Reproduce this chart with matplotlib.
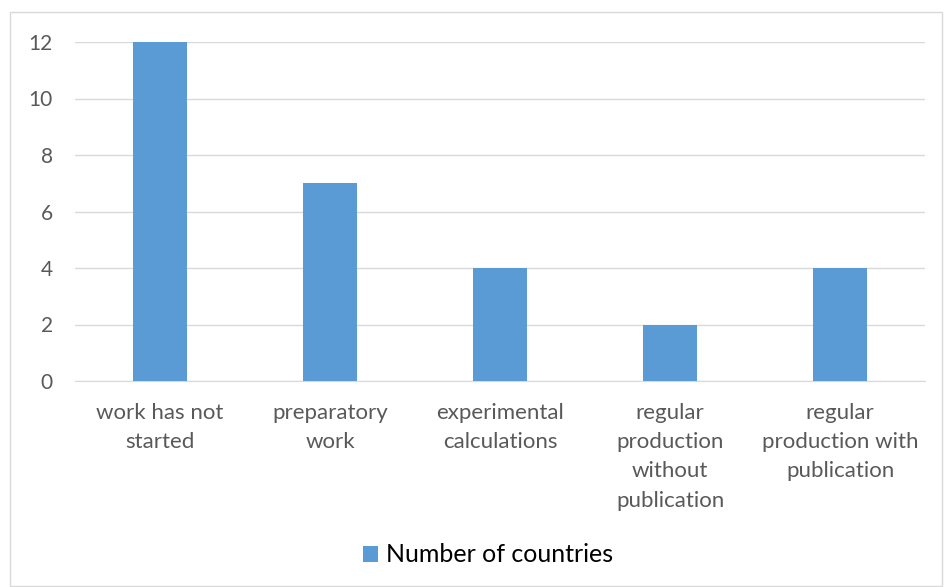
import matplotlib.pyplot as plt
from matplotlib.patches import Rectangle

categories = ["work has not\nstarted", "preparatory\nwork", "experimental\ncalculations",
              "regular\nproduction\nwithout\npublication", "regular\nproduction with\npublication"]
countries = [12, 7, 4, 2, 4]

plt.rcParams['font.family'] = ['Lato', 'DejaVu Sans']

fig = plt.figure(figsize=(9.44, 5.87), dpi=100)
ax = fig.add_axes([75 / 944, 1 - 381 / 587, 850 / 944, 339 / 587])

x = range(len(categories))
ax.bar(x, countries, width=0.32, color='#5B9BD5', label='Number of countries', zorder=3)

ax.set_xlim(-0.5, len(categories) - 0.5)
ax.set_ylim(0, 12)
ax.set_yticks(range(0, 13, 2))
ax.set_xticks(list(x))
ax.set_xticklabels(categories, linespacing=1.57)
ax.tick_params(axis='both', length=0, labelcolor='#595959')
ax.tick_params(axis='x', pad=16, labelsize=16)
ax.tick_params(axis='y', pad=16, labelsize=15)
ax.grid(axis='y', color='#d9d9d9', linewidth=1, zorder=0)
for s in ['top', 'right', 'left']:
    ax.spines[s].set_visible(False)
ax.spines['bottom'].set_color('#d9d9d9')

fig.legend(loc='center', bbox_to_anchor=(0.517, 1 - 555 / 587), frameon=False,
           fontsize=18, handlelength=0.6, handleheight=0.6, handletextpad=0.35)

# chart border
fig.patches.append(Rectangle((10 / 944, 0.002), 1 - 10 / 944 - 0.002, 1 - 12 / 587 - 0.002,
                             transform=fig.transFigure, fill=False, edgecolor='#d9d9d9', linewidth=1))

plt.savefig('out.png', dpi=100)
